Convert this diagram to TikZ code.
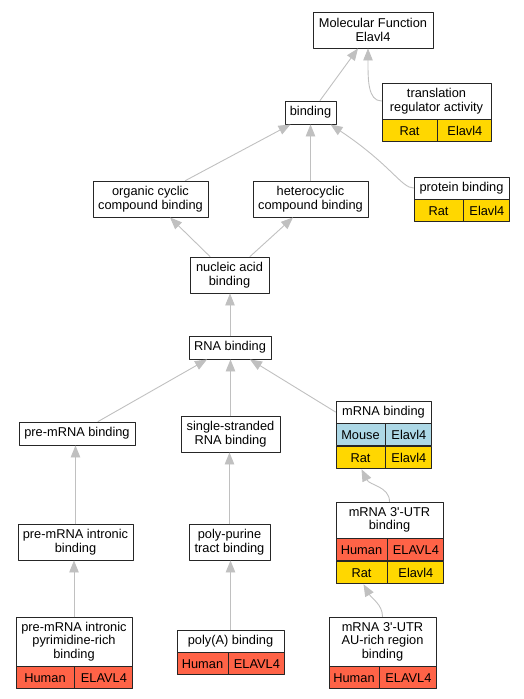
\documentclass[tikz,border=0pt]{standalone}
\usepackage{fontspec}
\setmainfont{Liberation Sans}
\usetikzlibrary{arrows.meta}
\definecolor{rat}{HTML}{FFD700}
\definecolor{mouse}{HTML}{ADD8E6}
\definecolor{human}{HTML}{FF6347}
\definecolor{edgegray}{HTML}{C0C0C0}
\begin{document}
\begin{tikzpicture}[x=1pt, y=-1pt, line cap=round, line join=round, font=\fontsize{12.8}{13.4}\selectfont, >={Triangle[length=12pt,width=9.5pt]}]
			\tikzset{term/.style={draw=black!85, line width=0.9pt, fill=white, align=center, inner sep=0pt},
				cell/.style={draw=black!85, line width=0.9pt, inner sep=0pt, minimum height=22pt, anchor=north west},
				isa/.style={->, draw=edgegray, line width=0.9pt}}
			\useasboundingbox (0,0) rectangle (524,699);
			% terms
			\node[term, minimum width=120pt, minimum height=36pt] (mf) at (373,30) {Molecular Function\\Elavl4};
			\node[term, minimum width=109pt, minimum height=36pt] (tra) at (436.5,101) {translation\\regulator activity};
			\node[cell, fill=rat, minimum width=55pt] (traR) at (tra.south west) {Rat};
			\node[cell, fill=rat, minimum width=54pt] (traE) at (traR.north east) {Elavl4};
			\node[term, minimum width=51pt, minimum height=23pt] (bind) at (310.5,112.5) {binding};
			\node[term, minimum width=95pt, minimum height=22pt] (prot) at (461.5,188) {protein binding};
			\node[cell, fill=rat, minimum width=49pt] (protR) at (prot.south west) {Rat};
			\node[cell, fill=rat, minimum width=46pt] (protE) at (protR.north east) {Elavl4};
			\node[term, minimum width=115pt, minimum height=36pt] (org) at (150.5,199) {organic cyclic\\compound binding};
			\node[term, minimum width=115pt, minimum height=36pt] (het) at (310.5,199) {heterocyclic\\compound binding};
			\node[term, minimum width=79pt, minimum height=36pt] (nuc) at (229.5,275) {nucleic acid\\binding};
			\node[term, minimum width=82pt, minimum height=23pt] (rna) at (230,347.5) {RNA binding};
			\node[term, minimum width=116pt, minimum height=23pt] (prem) at (77,433.5) {pre-mRNA binding};
			\node[term, minimum width=99pt, minimum height=36pt] (ss) at (230.5,434) {single-stranded\\RNA binding};
			\node[term, minimum width=95pt, minimum height=22pt] (mrna) at (383.5,412) {mRNA binding};
			\node[cell, fill=mouse, minimum width=49pt] (mrnaM) at (mrna.south west) {Mouse};
			\node[cell, fill=mouse, minimum width=46pt] (mrnaME) at (mrnaM.north east) {Elavl4};
			\node[cell, fill=rat, minimum width=49pt] (mrnaR) at (mrnaM.south west) {Rat};
			\node[cell, fill=rat, minimum width=46pt] (mrnaRE) at (mrnaR.north east) {Elavl4};
			\node[term, minimum width=115pt, minimum height=36pt] (intr) at (75.5,542) {pre-mRNA intronic\\binding};
			\node[term, minimum width=81pt, minimum height=36pt] (pur) at (229.5,542) {poly-purine\\tract binding};
			\node[term, minimum width=107pt, minimum height=36pt] (utr) at (389.5,520) {mRNA 3\textquotesingle-UTR\\binding};
			\node[cell, fill=human, minimum width=51pt] (utrH) at (utr.south west) {Human};
			\node[cell, fill=human, minimum width=56pt] (utrHE) at (utrH.north east) {ELAVL4};
			\node[cell, fill=rat, minimum width=51pt] (utrR) at (utrH.south west) {Rat};
			\node[cell, fill=rat, minimum width=56pt] (utrRE) at (utrR.north east) {Elavl4};
			\node[term, minimum width=116pt, minimum height=49pt] (pyr) at (74,641.5) {pre-mRNA intronic\\pyrimidine-rich\\binding};
			\node[cell, fill=human, minimum width=58pt] (pyrH) at (pyr.south west) {Human};
			\node[cell, fill=human, minimum width=58pt] (pyrE) at (pyrH.north east) {ELAVL4};
			\node[term, minimum width=107pt, minimum height=22pt] (polya) at (230.5,641) {poly(A) binding};
			\node[cell, fill=human, minimum width=51pt] (polyaH) at (polya.south west) {Human};
			\node[cell, fill=human, minimum width=56pt] (polyaE) at (polyaH.north east) {ELAVL4};
			\node[term, minimum width=107pt, minimum height=49pt] (au) at (382.5,641.5) {mRNA 3\textquotesingle-UTR\\AU-rich region\\binding};
			\node[cell, fill=human, minimum width=50pt] (auH) at (au.south west) {Human};
			\node[cell, fill=human, minimum width=57pt] (auE) at (auH.north east) {ELAVL4};
			% is-a edges
			\draw[isa] ([xshift=9.5pt]bind.north) -- ([xshift=-15pt]mf.south);
			\draw[isa] (tra.west) .. controls +(-14,0) and +(0,30) .. ([xshift=-5pt]mf.south);
			\draw[isa] (prot.west) .. controls +(-12,0) and +(60,40) .. ([xshift=20pt]bind.south);
			\draw[isa] (het.north) -- (bind.south);
			\draw[isa] ([xshift=35pt]org.north) -- ([xshift=-20pt]bind.south);
			\draw[isa] ([xshift=-19.5pt]nuc.north) -- ([xshift=19.5pt]org.south);
			\draw[isa] ([xshift=20.5pt]nuc.north) -- ([xshift=-17.5pt]het.south);
			\draw[isa] (rna.north) -- (rna.north |- nuc.south);
			\draw[isa] ([xshift=21pt]prem.north) -- ([xshift=-23pt]rna.south);
			\draw[isa] (ss.north) -- (ss.north |- rna.south);
			\draw[isa] (mrna.west) -- ([xshift=20pt]rna.south);
			\draw[isa] (intr.north) -- (intr.north |- prem.south);
			\draw[isa] (pur.north) -- (pur.north |- ss.south);
			\draw[isa] (pyr.north) -- (pyr.north |- intr.south);
			\draw[isa] (polya.north) -- (polya.north |- pur.south);
			\draw[isa] (utr.north) .. controls +(0,-15) and +(8,16) .. ([xshift=1pt]mrnaR.south);
			\draw[isa] (au.north) .. controls +(0,-12) and +(8,14) .. ([xshift=2pt]utrR.south);
		\end{tikzpicture}
\end{document}
